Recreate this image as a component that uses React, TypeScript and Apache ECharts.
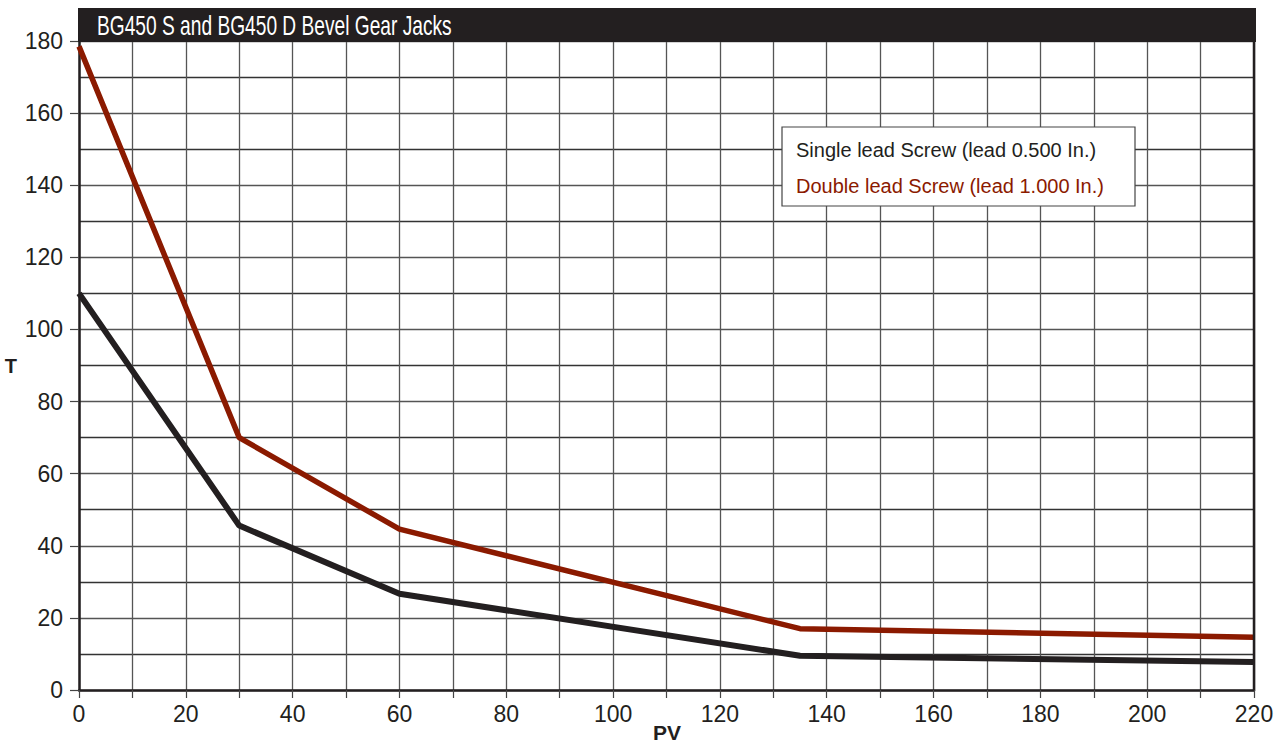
import React, { useEffect, useRef } from "react";
import * as echarts from "echarts";

const TITLE = "BG450 S and BG450 D Bevel Gear Jacks";
const X_NAME = "PV";
const Y_NAME = "T";
const SERIES_NAMES = ["Single lead Screw (lead 0.500 In.)", "Double lead Screw (lead 1.000 In.)"];
const SINGLE_X = [0, 30, 60, 135, 220];
const SINGLE_Y = [110, 45.6, 26.7, 9.5, 7.8];
const DOUBLE_X = [0, 30, 60, 135, 220];
const DOUBLE_Y = [178.5, 70, 44.6, 17, 14.6];

const BLACK = "#231f20";
const RED = "#8b1a00";

export default function App() {
  const ref = useRef<HTMLDivElement>(null);
  useEffect(() => {
    const chart = echarts.init(ref.current!, undefined, { renderer: "svg" });
    const font = "'Liberation Sans', Arial, Helvetica, sans-serif";
    chart.setOption({
      animation: false,
      backgroundColor: "#ffffff",
      grid: {
        left: 79,
        width: 1175,
        top: 41,
        height: 649,
        containLabel: false,
        outerBoundsMode: "none",
      },
      xAxis: {
        type: "value",
        min: 0,
        max: 220,
        interval: 10,
        axisLine: { show: true, onZero: false, lineStyle: { color: BLACK, width: 2.5 } },
        axisTick: { show: true, length: 8, lineStyle: { color: "#444", width: 1.2 } },
        axisLabel: {
          fontFamily: font,
          fontSize: 23,
          color: BLACK,
          margin: 12,
          formatter: (v: number) => (v % 20 === 0 ? String(v) : ""),
        },
        splitLine: { show: true, lineStyle: { color: "#555", width: 1.3 } },
      },
      yAxis: {
        type: "value",
        min: 0,
        max: 180,
        interval: 20,
        name: Y_NAME,
        nameLocation: "middle",
        nameGap: 62,
        nameRotate: 0,
        nameTextStyle: { fontFamily: font, fontWeight: "bold", fontSize: 20, color: BLACK },
        axisLine: { show: true, onZero: false, lineStyle: { color: BLACK, width: 2.5 } },
        axisTick: { show: true, length: 9, lineStyle: { color: "#444", width: 1.2 } },
        minorTick: { show: false, splitNumber: 2 },
        minorSplitLine: { show: true, lineStyle: { color: "#333", width: 1.3 } },
        axisLabel: { fontFamily: font, fontSize: 23, color: BLACK, margin: 16 },
        splitLine: { show: true, lineStyle: { color: "#555", width: 1.3 } },
      },
      series: [
        {
          name: SERIES_NAMES[0],
          type: "line",
          data: SINGLE_X.map((x, i) => [x, SINGLE_Y[i]]),
          showSymbol: false,
          lineStyle: { color: BLACK, width: 6 },
          itemStyle: { color: BLACK },
          z: 5,
        },
        {
          name: SERIES_NAMES[1],
          type: "line",
          data: DOUBLE_X.map((x, i) => [x, DOUBLE_Y[i]]),
          showSymbol: false,
          lineStyle: { color: RED, width: 5.5 },
          itemStyle: { color: RED },
          z: 5,
        },
      ],
      graphic: [
        {
          type: "line",
          shape: { x1: 1254, y1: 41, x2: 1254, y2: 690 },
          style: { stroke: BLACK, lineWidth: 2.5 },
          z: 10,
        },
        {
          type: "text",
          x: 667,
          y: 732,
          style: {
            text: X_NAME,
            fill: BLACK,
            fontFamily: font,
            fontWeight: "bold",
            fontSize: 21,
            align: "center",
            verticalAlign: "middle",
          },
          z: 11,
        },
        {
          type: "rect",
          shape: { x: 78, y: 8, width: 1178, height: 34 },
          style: { fill: BLACK },
          z: 10,
        },
        {
          type: "text",
          x: 97,
          y: 26,
          style: {
            text: TITLE,
            fill: "#ffffff",
            fontFamily: font,
            fontSize: 27,
            verticalAlign: "middle",
          },
          scaleX: 0.71,
          z: 11,
        },
        {
          type: "rect",
          shape: { x: 782, y: 127, width: 353, height: 79 },
          style: { fill: "#ffffff", stroke: "#444", lineWidth: 1.2 },
          z: 10,
        },
        {
          type: "text",
          x: 796,
          y: 150,
          style: {
            text: SERIES_NAMES[0],
            fill: BLACK,
            fontFamily: font,
            fontSize: 20,
            verticalAlign: "middle",
          },
          z: 11,
        },
        {
          type: "text",
          x: 796,
          y: 186,
          style: {
            text: SERIES_NAMES[1],
            fill: RED,
            fontFamily: font,
            fontSize: 20,
            verticalAlign: "middle",
          },
          z: 11,
        },
      ],
    });
    return () => chart.dispose();
  }, []);
  return <div ref={ref} style={{ width: 1277, height: 744, position: "absolute", left: 0, top: 0 }} />;
}
